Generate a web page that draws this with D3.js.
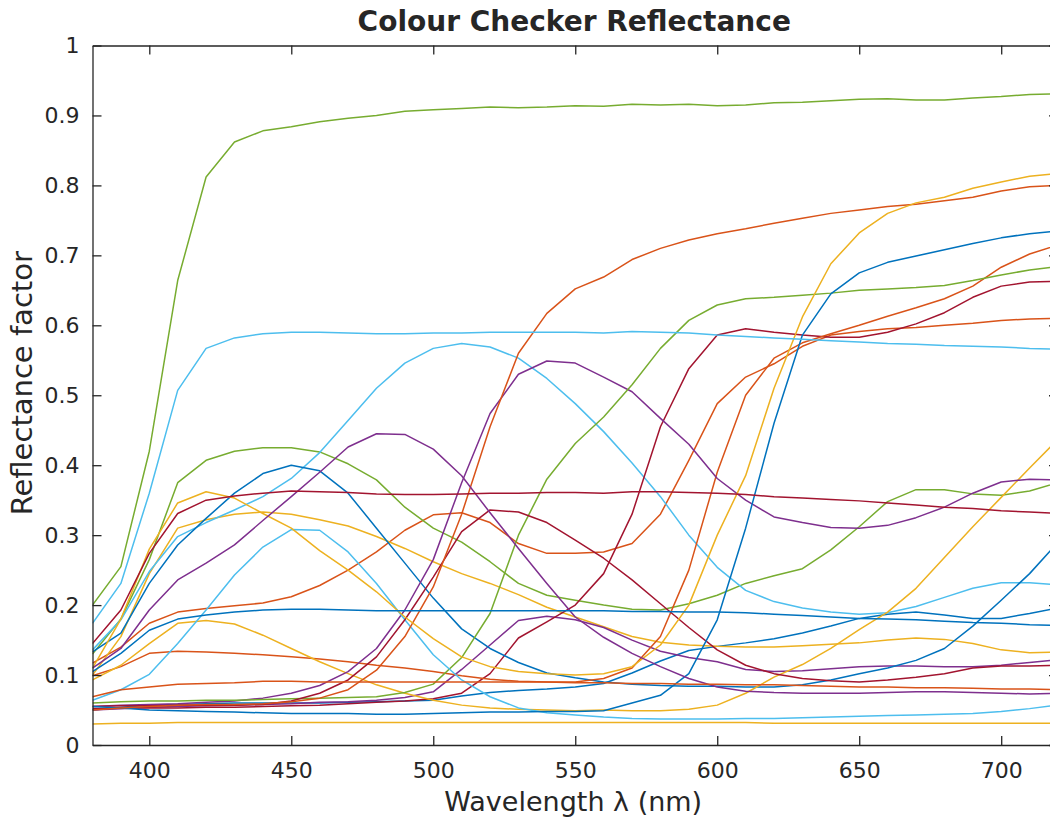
<!DOCTYPE html>
<html>
<head>
<meta charset="utf-8">
<script src="https://cdn.jsdelivr.net/npm/d3@7"></script>
<style>
  html, body { margin: 0; padding: 0; background: #fff; }
  svg { display: block; }
  text { font-family: "DejaVu Sans", sans-serif; fill: #262626; }
</style>
</head>
<body>
<svg id="chart" width="1050" height="819"></svg>
<script>
// Wavelength samples (nm)
const wavelengths = d3.range(380, 721, 10);

// Spectral reflectance of the 24 colour checker patches
const darkSkin     = [0.050,0.054,0.057,0.058,0.059,0.060,0.060,0.060,0.060,0.061,0.062,0.063,0.064,0.070,0.075,0.078,0.080,0.083,0.088,0.103,0.120,0.135,0.141,0.146,0.152,0.160,0.170,0.181,0.187,0.190,0.186,0.181,0.181,0.188,0.196];
const lightSkin    = [0.117,0.140,0.174,0.190,0.195,0.199,0.203,0.212,0.228,0.250,0.276,0.307,0.329,0.332,0.318,0.288,0.274,0.274,0.276,0.288,0.330,0.407,0.488,0.526,0.545,0.570,0.586,0.591,0.595,0.597,0.600,0.603,0.607,0.609,0.610];
const blueSky      = [0.100,0.155,0.245,0.310,0.322,0.330,0.333,0.330,0.322,0.313,0.298,0.281,0.262,0.245,0.231,0.215,0.197,0.183,0.169,0.155,0.147,0.143,0.141,0.140,0.140,0.142,0.144,0.146,0.150,0.153,0.151,0.145,0.136,0.132,0.133];
const foliage      = [0.050,0.052,0.054,0.055,0.056,0.057,0.058,0.059,0.061,0.062,0.064,0.068,0.076,0.108,0.143,0.178,0.184,0.179,0.168,0.150,0.134,0.125,0.119,0.108,0.105,0.106,0.109,0.112,0.113,0.113,0.112,0.112,0.114,0.118,0.122];
const blueFlower   = [0.130,0.180,0.265,0.375,0.407,0.420,0.425,0.425,0.419,0.402,0.379,0.340,0.310,0.290,0.262,0.231,0.214,0.207,0.200,0.194,0.193,0.202,0.214,0.231,0.242,0.252,0.279,0.312,0.348,0.365,0.365,0.359,0.357,0.363,0.375];
const bluishGreen  = [0.136,0.179,0.248,0.298,0.318,0.336,0.355,0.381,0.418,0.464,0.510,0.546,0.567,0.574,0.569,0.553,0.524,0.488,0.448,0.403,0.355,0.300,0.254,0.221,0.205,0.196,0.190,0.187,0.189,0.198,0.211,0.224,0.232,0.232,0.229];
const orange       = [0.052,0.053,0.053,0.053,0.054,0.054,0.055,0.056,0.057,0.059,0.061,0.063,0.066,0.074,0.102,0.153,0.176,0.200,0.245,0.330,0.455,0.538,0.586,0.595,0.590,0.586,0.583,0.583,0.590,0.602,0.618,0.640,0.656,0.662,0.663];
const purplishBlue = [0.133,0.160,0.231,0.286,0.324,0.360,0.388,0.400,0.392,0.360,0.310,0.260,0.210,0.166,0.138,0.118,0.103,0.096,0.090,0.087,0.085,0.084,0.084,0.083,0.083,0.086,0.093,0.102,0.110,0.121,0.138,0.170,0.207,0.245,0.290];
const moderateRed  = [0.099,0.112,0.131,0.134,0.133,0.131,0.129,0.126,0.123,0.119,0.114,0.110,0.105,0.099,0.094,0.091,0.090,0.090,0.095,0.110,0.155,0.250,0.390,0.500,0.553,0.575,0.588,0.600,0.613,0.625,0.638,0.656,0.683,0.702,0.715];
const purple       = [0.093,0.114,0.145,0.174,0.178,0.173,0.157,0.138,0.119,0.102,0.086,0.074,0.064,0.057,0.053,0.051,0.050,0.049,0.050,0.049,0.049,0.051,0.057,0.074,0.097,0.115,0.138,0.165,0.190,0.224,0.268,0.312,0.354,0.396,0.437];
const yellowGreen  = [0.055,0.057,0.058,0.059,0.061,0.063,0.067,0.074,0.085,0.105,0.138,0.193,0.265,0.375,0.474,0.530,0.549,0.546,0.526,0.505,0.467,0.430,0.381,0.350,0.326,0.318,0.311,0.310,0.314,0.325,0.340,0.360,0.376,0.380,0.379];
const orangeYellow = [0.060,0.062,0.063,0.063,0.064,0.064,0.065,0.066,0.067,0.068,0.069,0.075,0.087,0.125,0.188,0.300,0.380,0.431,0.469,0.515,0.567,0.607,0.629,0.638,0.640,0.643,0.646,0.650,0.652,0.654,0.657,0.664,0.672,0.679,0.684];
const blue         = [0.064,0.079,0.101,0.145,0.193,0.243,0.283,0.308,0.307,0.276,0.231,0.179,0.129,0.093,0.069,0.053,0.046,0.043,0.040,0.038,0.037,0.037,0.037,0.038,0.038,0.039,0.040,0.041,0.042,0.043,0.044,0.045,0.048,0.052,0.057];
const green        = [0.055,0.056,0.056,0.057,0.057,0.057,0.058,0.063,0.074,0.093,0.126,0.179,0.240,0.305,0.336,0.333,0.318,0.293,0.267,0.236,0.202,0.168,0.136,0.114,0.102,0.095,0.092,0.090,0.093,0.097,0.102,0.110,0.113,0.113,0.114];
const red          = [0.055,0.053,0.050,0.049,0.048,0.047,0.046,0.045,0.045,0.045,0.044,0.044,0.045,0.046,0.047,0.047,0.048,0.048,0.049,0.060,0.071,0.102,0.179,0.310,0.460,0.586,0.645,0.675,0.690,0.699,0.708,0.717,0.725,0.731,0.735];
const yellow       = [0.050,0.053,0.055,0.057,0.058,0.058,0.059,0.062,0.067,0.079,0.107,0.155,0.226,0.330,0.455,0.560,0.617,0.652,0.669,0.694,0.710,0.722,0.731,0.738,0.746,0.753,0.760,0.765,0.770,0.773,0.778,0.783,0.792,0.798,0.800];
const magenta      = [0.110,0.180,0.280,0.346,0.362,0.353,0.331,0.310,0.278,0.250,0.219,0.183,0.152,0.126,0.112,0.105,0.102,0.100,0.102,0.112,0.143,0.200,0.300,0.385,0.510,0.612,0.688,0.732,0.760,0.775,0.783,0.796,0.805,0.813,0.817];
const cyan         = [0.110,0.138,0.193,0.236,0.260,0.286,0.321,0.355,0.390,0.426,0.445,0.444,0.423,0.385,0.332,0.281,0.231,0.183,0.154,0.131,0.112,0.095,0.083,0.077,0.075,0.074,0.074,0.074,0.075,0.076,0.076,0.075,0.074,0.073,0.074];
const white        = [0.200,0.255,0.420,0.664,0.812,0.862,0.878,0.884,0.891,0.896,0.900,0.906,0.908,0.910,0.912,0.911,0.912,0.914,0.913,0.916,0.915,0.916,0.914,0.915,0.918,0.919,0.921,0.923,0.924,0.922,0.922,0.925,0.927,0.930,0.931];
const neutral8     = [0.174,0.231,0.360,0.507,0.567,0.582,0.588,0.590,0.590,0.589,0.588,0.588,0.589,0.589,0.590,0.590,0.590,0.590,0.589,0.591,0.590,0.589,0.586,0.584,0.582,0.580,0.578,0.576,0.574,0.573,0.571,0.570,0.569,0.567,0.566];
const neutral65    = [0.145,0.193,0.274,0.331,0.350,0.356,0.360,0.363,0.362,0.361,0.359,0.358,0.358,0.359,0.360,0.360,0.361,0.361,0.360,0.362,0.362,0.361,0.360,0.358,0.355,0.353,0.351,0.349,0.346,0.343,0.340,0.338,0.335,0.333,0.331];
const neutral5     = [0.105,0.131,0.164,0.180,0.186,0.190,0.193,0.194,0.194,0.193,0.192,0.192,0.192,0.192,0.192,0.192,0.192,0.192,0.192,0.191,0.191,0.190,0.190,0.189,0.187,0.185,0.183,0.181,0.180,0.179,0.177,0.175,0.174,0.172,0.171];
const neutral35    = [0.069,0.079,0.083,0.087,0.088,0.089,0.091,0.091,0.090,0.090,0.090,0.090,0.090,0.090,0.090,0.090,0.090,0.089,0.089,0.088,0.088,0.087,0.087,0.086,0.086,0.085,0.084,0.083,0.083,0.082,0.082,0.081,0.080,0.080,0.079];
const black        = [0.030,0.031,0.031,0.032,0.032,0.032,0.032,0.032,0.032,0.032,0.032,0.032,0.032,0.032,0.032,0.032,0.032,0.032,0.032,0.032,0.032,0.032,0.032,0.032,0.031,0.031,0.031,0.031,0.031,0.031,0.031,0.031,0.031,0.031,0.031];

const patches = [darkSkin, lightSkin, blueSky, foliage, blueFlower, bluishGreen,
                 orange, purplishBlue, moderateRed, purple, yellowGreen, orangeYellow,
                 blue, green, red, yellow, magenta, cyan,
                 white, neutral8, neutral65, neutral5, neutral35, black];

// Default line colour order, cycled through the patches
const lineColors = ["#0072BD", "#D95319", "#EDB120", "#7E2F8E", "#77AC30", "#4DBEEE", "#A2142F"];

const xTicks = [400, 450, 500, 550, 600, 650, 700];
const yTicks = [0, 0.1, 0.2, 0.3, 0.4, 0.5, 0.6, 0.7, 0.8, 0.9, 1];

(function drawChart() {
  const svg = d3.select("#chart");
  const plotL = 92.5, plotR = 1058, plotT = 45.5, plotB = 745;

  const x = d3.scaleLinear().domain([380, 720]).range([plotL, plotR]);
  const y = d3.scaleLinear().domain([0, 1]).range([plotB, plotT]);

  const axisColor = "#262626";

  // Curves, clipped to the axes box
  svg.append("clipPath").attr("id", "plotClip")
    .append("rect").attr("x", plotL).attr("y", plotT)
    .attr("width", plotR - plotL).attr("height", plotB - plotT);

  const line = d3.line().x((d, i) => x(wavelengths[i])).y(d => y(d));

  svg.append("g").attr("clip-path", "url(#plotClip)")
    .selectAll("path").data(patches).join("path")
    .attr("d", line)
    .attr("fill", "none")
    .attr("stroke", (d, i) => lineColors[i % lineColors.length])
    .attr("stroke-width", 1.5)
    .attr("stroke-linejoin", "round");

  // Axes with inward ticks, plus the box
  const tickLen = 9;
  const xAxisB = d3.axisBottom(x).tickValues(xTicks).tickSizeInner(-tickLen).tickSizeOuter(0).tickPadding(17).tickFormat(d3.format("d"));
  const xAxisT = d3.axisTop(x).tickValues(xTicks).tickSizeInner(-tickLen).tickSizeOuter(0).tickFormat("");
  const yAxisL = d3.axisLeft(y).tickValues(yTicks).tickSizeInner(-tickLen).tickSizeOuter(0).tickPadding(13)
    .tickFormat(d => d === 0 || d === 1 ? String(d) : d3.format(".1f")(d));
  const yAxisR = d3.axisRight(y).tickValues(yTicks).tickSizeInner(-tickLen).tickSizeOuter(0).tickFormat("");

  function styleAxis(g) {
    g.select(".domain").attr("stroke", axisColor).attr("stroke-width", 1.3);
    g.selectAll(".tick line").attr("stroke", axisColor).attr("stroke-width", 1.3);
    g.selectAll(".tick text").attr("fill", axisColor)
      .style("font-size", "22px").style("font-family", "'DejaVu Sans', sans-serif");
  }

  svg.append("g").attr("transform", `translate(0,${plotB})`).call(xAxisB).call(styleAxis);
  svg.append("g").attr("transform", `translate(0,${plotT})`).call(xAxisT).call(styleAxis);
  svg.append("g").attr("transform", `translate(${plotL},0)`).call(yAxisL).call(styleAxis);
  svg.append("g").attr("transform", `translate(${plotR},0)`).call(yAxisR).call(styleAxis);

  // Title and axis labels
  svg.append("text")
    .attr("x", (plotL + plotR) / 2 - 1).attr("y", 31)
    .attr("text-anchor", "middle")
    .style("font-size", "28px").style("font-weight", "bold")
    .attr("fill", "#000")
    .text("Colour Checker Reflectance");

  svg.append("text")
    .attr("x", (plotL + plotR) / 2 - 2).attr("y", 811)
    .attr("text-anchor", "middle")
    .style("font-size", "27px")
    .text("Wavelength \u03bb (nm)");

  svg.append("text")
    .attr("transform", `translate(32,${(plotT + plotB) / 2 - 12}) rotate(-90)`)
    .attr("text-anchor", "middle")
    .style("font-size", "29px")
    .text("Reflectance factor");
})();
</script>
</body>
</html>
